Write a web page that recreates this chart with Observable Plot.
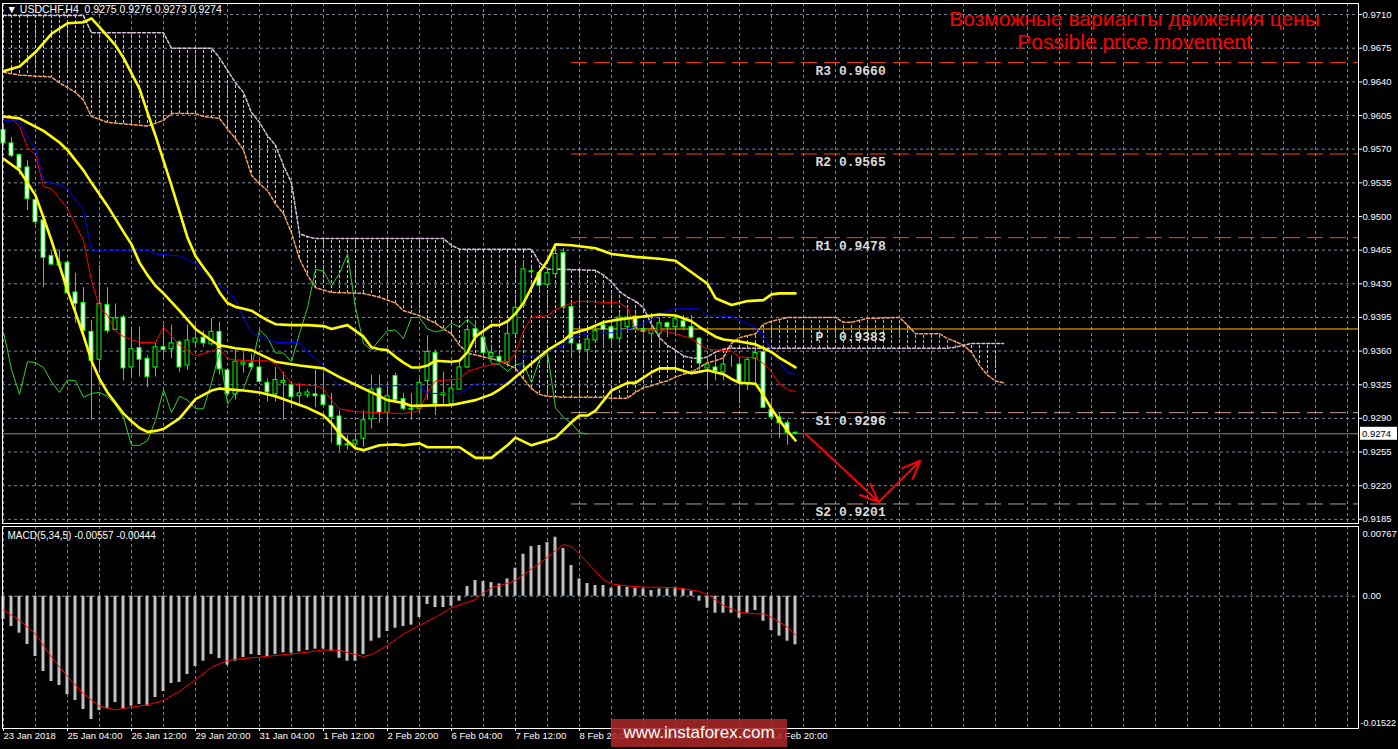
<!DOCTYPE html>
<html><head><meta charset="utf-8">
<script src="https://cdn.jsdelivr.net/npm/d3@7"></script>
<script src="https://cdn.jsdelivr.net/npm/@observablehq/plot@0.6"></script>
<style>
html,body{margin:0;padding:0;background:#000;}
#wrap{position:relative;width:1398px;height:749px;overflow:hidden;background:#000;}
#wrap svg{display:block;}
.wm{position:absolute;left:611px;top:719px;width:176px;height:28px;background:rgba(172,40,40,0.86);color:#fff;font:17px "Liberation Sans",Arial,sans-serif;text-align:center;line-height:28px;}
</style></head><body><div id="wrap"></div>
<script>
// ---------- DATA ----------
const opens  = [.9590,.9576,.9564,.9551,.9517,.9496,.9459,.9449,.9452,.9421,.9410,.9380,.9351,.9408,.9382,.9395,.9343,.9363,.9352,.9343,.9364,.9362,.9369,.9345,.9369,.9374,.9367,.9380,.9340,.9315,.9346,.9347,.9343,.9327,.9315,.9327,.9325,.9313,.9314,.9315,.9314,.9303,.9292,.9263,.9263,.9269,.9289,.9321,.9296,.9334,.9310,.9299,.9300,.9329,.9358,.9314,.9305,.9320,.9343,.9383,.9374,.9354,.9354,.9348,.9378,.9407,.9442,.9441,.9429,.9440,.9462,.9406,.9367,.9361,.9371,.9387,.9385,.9373,.9385,.9396,.9383,.9378,.9378,.9389,.9385,.9391,.9385,.9373,.9342,.9343,.9338,.9347,.9346,.9326,.9352,.9359,.9299,.9291,.9285,.9275];
const highs  = [.9595,.9582,.9565,.9558,.9519,.9499,.9463,.9465,.9454,.9441,.9426,.9392,.9449,.9426,.9409,.9397,.9385,.9385,.9355,.9368,.9387,.9387,.9371,.9387,.9387,.9381,.9394,.9390,.9342,.9361,.9358,.9357,.9350,.9331,.9343,.9338,.9327,.9326,.9320,.9340,.9337,.9316,.9298,.9272,.9274,.9298,.9335,.9335,.9326,.9337,.9316,.9316,.9331,.9376,.9361,.9338,.9330,.9350,.9386,.9392,.9378,.9364,.9358,.9390,.9407,.9454,.9446,.9444,.9444,.9468,.9467,.9409,.9368,.9376,.9385,.9390,.9390,.9400,.9404,.9399,.9390,.9399,.9395,.9390,.9395,.9397,.9397,.9374,.9353,.9353,.9353,.9355,.9350,.9353,.9366,.9361,.9311,.9295,.9288,.9276];
const lows   = [.9573,.9561,.9543,.9506,.9491,.9426,.9449,.9447,.9419,.9389,.9371,.9288,.9337,.9378,.9381,.9329,.9333,.9333,.9322,.9333,.9353,.9352,.9338,.9340,.9364,.9364,.9366,.9335,.9314,.9309,.9337,.9340,.9327,.9307,.9307,.9288,.9301,.9302,.9311,.9301,.9302,.9264,.9255,.9257,.9257,.9260,.9279,.9285,.9285,.9306,.9298,.9288,.9295,.9309,.9293,.9303,.9302,.9319,.9342,.9366,.9352,.9350,.9347,.9343,.9376,.9405,.9439,.9423,.9426,.9437,.9403,.9353,.9359,.9347,.9369,.9363,.9363,.9368,.9379,.9379,.9371,.9371,.9363,.9374,.9376,.9381,.9373,.9337,.9321,.9329,.9329,.9343,.9305,.9319,.9326,.9300,.9288,.9269,.9262,.9273];
const closes = [.9576,.9563,.9550,.9518,.9494,.9457,.9450,.9452,.9420,.9409,.9381,.9350,.9409,.9381,.9394,.9342,.9362,.9351,.9333,.9364,.9361,.9368,.9343,.9371,.9373,.9368,.9380,.9341,.9315,.9349,.9348,.9343,.9328,.9317,.9330,.9329,.9312,.9316,.9317,.9313,.9304,.9291,.9262,.9262,.9267,.9288,.9320,.9296,.9313,.9309,.9300,.9300,.9327,.9359,.9305,.9316,.9321,.9343,.9382,.9374,.9358,.9358,.9349,.9378,.9405,.9445,.9443,.9428,.9441,.9461,.9405,.9368,.9361,.9372,.9381,.9382,.9373,.9395,.9395,.9383,.9380,.9382,.9389,.9385,.9393,.9385,.9374,.9347,.9346,.9339,.9346,.9347,.9327,.9351,.9358,.9301,.9291,.9285,.9275,.9274];

// Ichimoku (bar index, price)
const tenkan = [[0,.9603],[1,.9602],[2,.9594],[3,.9572],[4,.9564],[5,.9531],[6,.9529],[8,.9508],[10,.9475],[11,.9433],[12,.9406],[13,.9397],[14,.9381],[15,.9375],[17,.9369],[19,.9369],[20,.9385],[22,.9366],[24,.9355],[26,.9360],[27,.9363],[28,.9352],[30,.9350],[33,.9350],[34,.9347],[36,.9326],[39,.9324],[40,.9321],[41,.9309],[42,.9300],[44,.9297],[47,.9296],[50,.9295],[52,.9298],[53,.9317],[54,.9329],[57,.9331],[58,.9339],[60,.9344],[63,.9349],[64,.9358],[65,.9381],[66,.9395],[68,.9397],[69,.9403],[71,.9410],[72,.9412],[77,.9410],[78,.9405],[79,.9382],[82,.9382],[84,.9378],[86,.9373],[87,.9367],[88,.9362],[91,.9360],[92,.9354],[94,.9353],[95,.9347],[96,.9338],[97,.9326],[98,.9320],[99,.9318]];
const kijun = [[0,.9600],[2,.9600],[3,.9582],[4,.9571],[5,.9537],[7,.9533],[8,.9529],[9,.9517],[10,.9506],[11,.9465],[18,.9465],[19,.9461],[22,.9459],[24,.9451],[26,.9433],[28,.9423],[29,.9413],[30,.9395],[31,.9379],[32,.9376],[34,.9369],[37,.9369],[38,.9359],[40,.9345],[41,.9331],[42,.9324],[52,.9324],[53,.9316],[57,.9316],[58,.9321],[59,.9326],[62,.9326],[64,.9329],[65,.9355],[67,.9355],[68,.9359],[69,.9364],[70,.9365],[71,.9374],[73,.9378],[76,.9379],[79,.9385],[80,.9389],[82,.9397],[83,.9402],[84,.9404],[87,.9404],[88,.9397],[91,.9396],[94,.9385],[95,.9376],[96,.9361],[97,.9348],[98,.9338],[99,.9336]];
const spanBars = [0,2,6,7,8,9,10,11,13,18,20,21,24,25,26,27,28,29,30,31,32,33,34,35,36,37,38,39,41,45,47,49,50,52,54,55,56,57,58,60,62,64,65,66,67,68,70,74,75,76,77,78,79,80,81,82,83,84,85,86,87,88,89,90,90.6,91,92,93,94,95,96,97,98,104,105,106,107,108,112,113,114,117,118,119,120,121,122,123,124,125];
const spanA = [.9650,.9647,.9645,.9639,.9634,.9629,.9621,.9604,.9598,.9594,
.9600,.9607,.9607,.9604,.9603,.9602,.9591,.9581,.9569,.9543,
.9534,.9527,.9513,.9503,.9483,.9456,.9439,.9426,.9421,.9420,
.9416,.9410,.9402,.9397,.9389,.9383,.9378,.9366,.9358,.9354,
.9350,.9342,.9331,.9321,.9315,.9313,.9312,.9312,.9312,.9311,
.9311,.9311,.9317,.9322,.9324,.9327,.9329,.9333,.9336,.9338,
.9343,.9348,.9350,.9353,.9363,.9368,.9374,.9376,.9378,.9388,
.9391,.9393,.9395,.9395,.9390,.9390,.9392,.9394,.9395,.9387,
.9378,.9378,.9373,.9370,.9366,.9359,.9345,.9335,.9329,.9327];
const spanB = [.9709,.9709,.9709,.9709,.9709,.9709,.9709,.9691,.9691,.9691,
.9691,.9675,.9675,.9675,.9675,.9665,.9652,.9639,.9629,.9608,
.9598,.9584,.9574,.9553,.9535,.9482,.9479,.9477,.9477,.9477,
.9477,.9477,.9477,.9477,.9477,.9477,.9470,.9466,.9466,.9466,
.9466,.9466,.9466,.9466,.9452,.9445,.9445,.9444,.9439,.9432,
.9422,.9416,.9412,.9405,.9388,.9374,.9366,.9361,.9355,.9353,
.9352,.9354,.9359,.9362,.9363,.9363,.9363,.9363,.9363,.9363,
.9363,.9363,.9363,.9363,.9363,.9363,.9363,.9363,.9363,.9363,
.9363,.9363,.9363,.9364,.9366,.9368,.9368,.9368,.9368,.9368];

// Bollinger bands (bar index, price)
const bbUpper = [[0,.9651],[2,.9656],[4,.9671],[6,.9690],[8,.9701],[10,.9702],[11,.9706],[12,.9697],[14,.9678],[15,.9665],[17,.9633],[18,.9608],[19,.9584],[21,.9532],[23,.9478],[24,.9459],[25,.9447],[26,.9436],[27,.9421],[28,.9410],[29,.9406],[30,.9404],[31,.9402],[32,.9397],[33,.9392],[34,.9388],[36,.9387],[38,.9387],[40,.9386],[41,.9383],[42,.9385],[43,.9387],[44,.9381],[45,.9375],[46,.9364],[47,.9362],[48,.9361],[49,.9354],[50,.9348],[51,.9343],[52,.9343],[53,.9345],[54,.9350],[56,.9349],[57,.9350],[58,.9359],[59,.9375],[60,.9381],[61,.9387],[62,.9387],[63,.9391],[64,.9399],[65,.9410],[66,.9426],[67,.9442],[68,.9454],[69,.9471],[71,.9470],[74,.9467],[76,.9461],[79,.9458],[82,.9456],[84,.9454],[86,.9442],[88,.9430],[89,.9415],[91,.9408],[93,.9412],[95,.9413],[96,.9419],[97,.9420],[99,.9420]];
const bbMiddle = [[0,.9604],[2,.9602],[5,.9589],[7,.9577],[8,.9569],[10,.9548],[11,.9535],[13,.9511],[15,.9484],[16,.9471],[17,.9452],[18,.9439],[19,.9428],[20,.9420],[22,.9402],[24,.9383],[26,.9371],[27,.9366],[29,.9363],[31,.9361],[33,.9353],[34,.9349],[37,.9345],[40,.9342],[42,.9333],[44,.9325],[46,.9317],[48,.9309],[50,.9306],[51,.9303],[56,.9304],[59,.9309],[61,.9315],[62,.9320],[63,.9326],[65,.9340],[67,.9354],[68,.9361],[70,.9371],[71,.9378],[73,.9383],[75,.9390],[77,.9393],[79,.9395],[82,.9398],[84,.9397],[86,.9391],[87,.9385],[89,.9375],[90,.9372],[92,.9370],[94,.9367],[96,.9359],[97,.9353],[98,.9348],[99,.9343]];
const bbLower = [[0,.9560],[2,.9548],[4,.9522],[5,.9499],[6,.9475],[7,.9449],[8,.9423],[9,.9400],[10,.9376],[11,.9350],[12,.9331],[13,.9317],[14,.9306],[15,.9295],[16,.9287],[17,.9280],[18,.9276],[19,.9277],[20,.9279],[22,.9290],[24,.9310],[26,.9319],[27,.9321],[30,.9319],[32,.9317],[34,.9313],[36,.9307],[38,.9301],[40,.9293],[41,.9285],[42,.9274],[44,.9259],[45,.9257],[47,.9262],[49,.9263],[50,.9262],[52,.9264],[53,.9260],[57,.9260],[59,.9249],[61,.9249],[63,.9262],[64,.9270],[66,.9262],[68,.9267],[69,.9270],[71,.9286],[72,.9293],[73,.9293],[74,.9298],[76,.9319],[78,.9327],[79,.9327],[81,.9338],[82,.9342],[84,.9342],[86,.9337],[88,.9340],[90,.9336],[91,.9331],[92,.9327],[94,.9326],[95,.9314],[96,.9300],[97,.9288],[98,.9277],[99,.9267]];

// Pivot levels
const pivotNames  = ["R3","R2","R1","P","S1","S2"];
const pivotValues = [0.9660, 0.9565, 0.9478, 0.9383, 0.9296, 0.9201];
const pivotStartBar = 71;
const pivotLabelBar = 101.5;

// Forecast path (bar index, price)
const forecast = [[100.25,0.9274],[109.4,0.9203],[114.6,0.9246]];

// MACD(5,34,5)
const macdMain = [-.00267,-.00348,-.00424,-.00554,-.00691,-.00863,-.00978,-.01024,-.01127,-.01196,
-.01299,-.01413,-.01310,-.01291,-.01219,-.01291,-.01261,-.01242,-.01261,-.01161,
-.01093,-.01001,-.00989,-.00898,-.00806,-.00745,-.00669,-.00714,-.00791,-.00745,
-.00703,-.00669,-.00680,-.00691,-.00669,-.00649,-.00653,-.00638,-.00623,-.00607,
-.00607,-.00630,-.00711,-.00745,-.00745,-.00669,-.00516,-.00481,-.00405,-.00367,
-.00348,-.00332,-.00244,-.00096,-.00130,-.00130,-.00113,-.00057,.00111,.00180,
.00168,.00157,.00141,.00199,.00321,.00481,.00569,.00581,.00615,.00676,
.00546,.00351,.00199,.00145,.00122,.00122,.00092,.00118,.00103,.00092,
.00084,.00065,.00084,.00084,.00096,.00084,.00057,-.00057,-.00138,-.00195,
-.00195,-.00195,-.00252,-.00195,-.00164,-.00287,-.00393,-.00458,-.00516,-.00557];
const macdSignal = [[0,-.00157],[2,-.00279],[4,-.00432],[6,-.00699],[8,-.00921],[10,-.01119],[12,-.01261],[14,-.01303],[16,-.01272],[18,-.01245],[20,-.01196],[22,-.01089],[24,-.00959],[26,-.00814],[28,-.00737],[30,-.00714],[32,-.00699],[34,-.00680],[36,-.00661],[38,-.00642],[40,-.00615],[42,-.00623],[44,-.00669],[45,-.00691],[46,-.00669],[48,-.00565],[50,-.00432],[52,-.00336],[54,-.00241],[56,-.00134],[57,-.00100],[58,-.00069],[59,-.00038],[60,.00040],[61,.00096],[62,.00122],[63,.00149],[64,.00180],[65,.00248],[66,.00313],[67,.00378],[68,.00447],[69,.00523],[70,.00592],[71,.00569],[72,.00485],[73,.00382],[74,.00287],[75,.00187],[76,.00141],[78,.00118],[80,.00103],[82,.00103],[84,.00096],[86,.00073],[87,.00053],[88,.00019],[89,-.00042],[90,-.00107],[91,-.00145],[92,-.00183],[93,-.00195],[94,-.00202],[95,-.00202],[96,-.00241],[97,-.00298],[98,-.00355],[99,-.00444]];

// Axes
const priceTicks = [0.9185,0.9220,0.9255,0.9290,0.9325,0.9360,0.9395,0.9430,0.9465,0.9500,0.9535,0.9570,0.9605,0.9640,0.9675,0.9710];
const macdTicks = [0.00767, 0, -0.01522];
const dateBars = [0,8,16,24,32,40,48,56,64,72,80,88,96];
const dateLabels = ["23 Jan 2018","25 Jan 04:00","26 Jan 12:00","29 Jan 20:00","31 Jan 04:00","1 Feb 12:00","2 Feb 20:00","6 Feb 04:00","7 Feb 12:00","8 Feb 20:00","12 Feb 04:00","13 Feb 12:00","14 Feb 20:00"];
const titleText = "Возможные варианты движения цены\nPossible price movement";

// ---------- BUILD ----------
const W = 1398, XDOM = [-0.125, 169.375];
const GRID = "#778899";
const FONT = "'Liberation Sans', Arial, sans-serif";
const MONO = "'Liberation Mono', 'DejaVu Sans Mono', monospace";

const candles = closes.map((c,i)=>({i, o:opens[i], h:highs[i], l:lows[i], c}));
const bull = candles.filter(d=>d.c>d.o), bear = candles.filter(d=>d.c<=d.o);
const chikou = closes.slice(26).map((c,k)=>[k,c]);

// cloud runs (split where span A and span B cross)
const runs=[]; let cur=null;
spanBars.forEach((b,k)=>{
  const p={i:b,a:spanA[k],s:spanB[k]};
  const sg=Math.sign(p.a-p.s);
  if(sg===0){ if(cur) cur.pts.push(p); cur={sg:0,pts:[p]}; runs.push(cur); return; }
  if(!cur){ cur={sg,pts:[p]}; runs.push(cur); return; }
  if(cur.sg===0){ cur.sg=sg; cur.pts.push(p); return; }
  if(cur.sg!==sg){ cur={sg,pts:[p]}; runs.push(cur); return; }
  cur.pts.push(p);
});
const cloud = runs.flatMap((r,ri)=>r.pts.map(p=>({...p, run:ri, bull:r.sg>0})));
const spanPts = spanBars.map((b,k)=>({i:b,a:spanA[k],s:spanB[k]}));
const pivots = pivotNames.map((n,k)=>({n, v:pivotValues[k], label:n.padEnd(2," ")+" "+pivotValues[k].toFixed(4)}));
const arrows = forecast.slice(1).map((p,k)=>({x1:forecast[k][0],y1:forecast[k][1],x2:p[0],y2:p[1]}));
const hdr = "▼ USDCHF,H4  " + [opens[99],highs[99],lows[99],closes[99]].map(v=>v.toFixed(4)).join(" ");
const gridBars = d3.range(0, 170, 4);
const L = (data, stroke, w=1, extra={}) => Plot.line(data, {x:d=>d[0], y:d=>d[1], stroke, strokeWidth:w, ...extra});

const main = Plot.plot({
  width: W, height: 525, marginTop: 3, marginBottom: 2, marginLeft: 2, marginRight: 40,
  style: {background:"#000", color:"#fff", fontFamily:FONT, fontSize:"9.5px", overflow:"visible"},
  x: {domain: XDOM, axis: null},
  y: {domain: [0.91807, 0.97215], axis: null},
  marks: [
    Plot.gridX(gridBars, {stroke:GRID, strokeOpacity:1, strokeDasharray:"3,3"}),
    Plot.gridY(priceTicks, {stroke:GRID, strokeOpacity:1, strokeDasharray:"3,3"}),
    Plot.areaY(cloud.filter(d=>!d.bull), {x:"i", y1:"a", y2:"s", z:"run", fill:"url(#hatchBear)"}),
    Plot.areaY(cloud.filter(d=>d.bull), {x:"i", y1:"a", y2:"s", z:"run", fill:"url(#hatchBull)"}),
    Plot.line(spanPts, {x:"i", y:"a", stroke:"#f4a460", strokeDasharray:"3,2"}),
    Plot.line(spanPts, {x:"i", y:"s", stroke:"#d8bfd8", strokeDasharray:"3,2"}),
    Plot.ruleY(pivots.filter(d=>d.n[0]==="R"), {y:"v", x1:pivotStartBar, x2:XDOM[1], stroke:"#ff4500", strokeDasharray:"16,7"}),
    Plot.ruleY(pivots.filter(d=>d.n[0]==="S"), {y:"v", x1:pivotStartBar, x2:XDOM[1], stroke:"#c49a8e", strokeDasharray:"16,7"}),
    Plot.ruleY(pivots.filter(d=>d.n==="P"), {y:"v", x1:pivotStartBar, x2:XDOM[1], stroke:"#ffc000"}),
    Plot.ruleY([closes[99]], {stroke:"#8a8a8a"}),
    Plot.ruleX(candles, {x:"i", y1:"l", y2:"h", stroke:"#00ff00"}),
    Plot.rect(bear, {x1:d=>d.i-0.5, x2:d=>d.i+0.5, y1:"o", y2:"c", insetLeft:2, insetRight:2, fill:"#fff", stroke:"#00ff00"}),
    Plot.rect(bull, {x1:d=>d.i-0.5, x2:d=>d.i+0.5, y1:"o", y2:"c", insetLeft:2, insetRight:2, fill:"#000", stroke:"#00ff00"}),
    L(chikou, "#2ed12e"),
    L(kijun, "#0000ff"),
    L(tenkan, "#ff0000"),
    L(bbUpper, "#ffff00", 2.6),
    L(bbMiddle, "#ffff00", 2.6),
    L(bbLower, "#ffff00", 2.6),
    Plot.text(pivots, {x:()=>pivotLabelBar, y:"v", text:"label", dy:8, textAnchor:"start", fill:"#dcdcdc", fontFamily:MONO, fontWeight:"bold", fontSize:13}),
    Plot.arrow(arrows, {x1:"x1", y1:"y1", x2:"x2", y2:"y2", stroke:"#ff0000", strokeWidth:2, headLength:15, headAngle:45}),
    Plot.text([titleText], {text:d=>d, frameAnchor:"top-right", dx:-224, dy:6, lineAnchor:"top", textAnchor:"middle", fill:"#ff0000", fontSize:21, lineHeight:1.1, fontFamily:FONT}),
    Plot.text([hdr], {text:d=>d, frameAnchor:"top-left", dx:4, dy:6, lineAnchor:"middle", textAnchor:"start", fill:"#fff", fontSize:10.5}),
    Plot.frame({stroke:"#fff"}),
    Plot.axisY({ticks:priceTicks, anchor:"right", tickFormat:d=>d.toFixed(4), tickSize:3, tickPadding:1, stroke:"#fff"})
  ]
});

const macd = Plot.plot({
  width: W, height: 224, marginTop: 1, marginBottom: 21, marginLeft: 2, marginRight: 40,
  style: {background:"#000", color:"#fff", fontFamily:FONT, fontSize:"9.5px", overflow:"visible"},
  x: {domain: XDOM},
  y: {domain: [-0.01522, 0.00767], range: [203.5, 3.8], axis: null},
  marks: [
    Plot.gridX(gridBars, {stroke:GRID, strokeOpacity:1, strokeDasharray:"3,3"}),
    Plot.ruleY([0], {stroke:GRID, strokeDasharray:"3,3"}),
    Plot.rect(macdMain.map((v,i)=>({i,v})), {x1:d=>d.i-0.5, x2:d=>d.i+0.5, y1:()=>0, y2:"v", insetLeft:2.5, insetRight:2.5, fill:"#c0c0c0"}),
    L(macdSignal, "#ff0000"),
    Plot.text(["MACD(5,34,5) " + macdMain[99].toFixed(5) + " " + macdSignal[macdSignal.length-1][1].toFixed(5)], {text:d=>d, frameAnchor:"top-left", dx:5, dy:9, lineAnchor:"middle", textAnchor:"start", fill:"#fff", fontSize:10}),
    Plot.frame({stroke:"#fff"}),
    Plot.axisX({ticks:dateBars, anchor:"bottom", tickFormat:d=>dateLabels[dateBars.indexOf(d)], textAnchor:"start", tickSize:3, tickPadding:1, stroke:"#fff"}),
    Plot.text([macdTicks[0]], {y:d=>d, text:d=>d.toFixed(5), frameAnchor:"right", dx:4, dy:5, textAnchor:"start", fill:"#fff"}),
    Plot.text([macdTicks[1]], {y:d=>d, text:d=>d.toFixed(2), frameAnchor:"right", dx:4, dy:0, textAnchor:"start", fill:"#fff"}),
    Plot.text([macdTicks[2]], {y:d=>d, text:d=>d.toFixed(5), frameAnchor:"right", dx:2, dy:-6, textAnchor:"start", fill:"#fff", fontSize:9})
  ]
});

const wrap = document.getElementById("wrap");
wrap.appendChild(main);
wrap.appendChild(macd);

// hatch patterns for the cloud
const svgM = d3.select(main);
const defs = svgM.insert("defs", ":first-child");
[["hatchBear","#d8bfd8"],["hatchBull","#f4a460"]].forEach(([id,col])=>{
  const p = defs.append("pattern").attr("id",id).attr("patternUnits","userSpaceOnUse").attr("width",8).attr("height",5);
  p.append("rect").attr("x",3).attr("y",0).attr("width",1).attr("height",3).attr("fill",col);
});

// current price label box on the axis
const py = main.scale("y").apply(closes[99]);
const lab = svgM.append("g");
lab.append("rect").attr("x",1360).attr("y",py-6.5).attr("width",37).attr("height",13).attr("fill","#fff");
lab.append("text").attr("x",1362).attr("y",py).attr("dy","0.35em").attr("fill","#000")
  .attr("text-anchor","start").attr("font-family",FONT).attr("font-size","9.5px").text(closes[99].toFixed(4));

// watermark
const wm = document.createElement("div");
wm.className = "wm"; wm.textContent = "www.instaforex.com";
wrap.appendChild(wm);
</script></body></html>
